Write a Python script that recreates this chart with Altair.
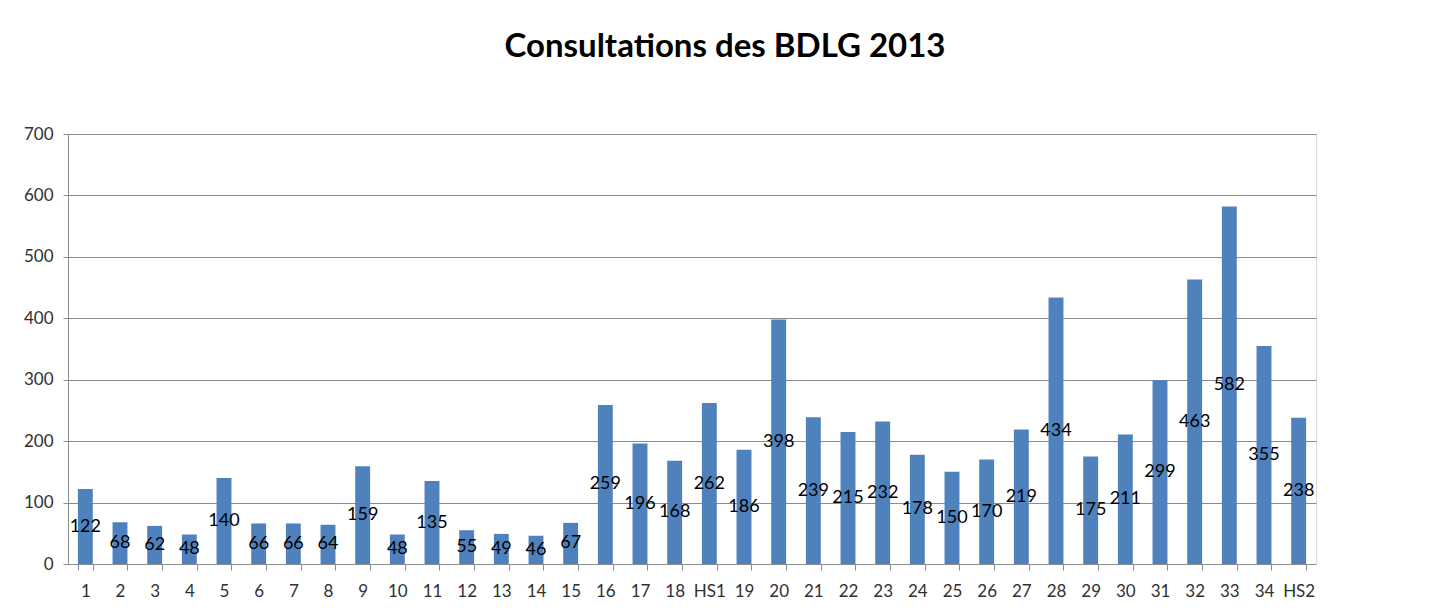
import altair as alt
import pandas as pd

categories = ["1", "2", "3", "4", "5", "6", "7", "8", "9", "10", "11", "12",
              "13", "14", "15", "16", "17", "18", "HS1", "19", "20", "21", "22",
              "23", "24", "25", "26", "27", "28", "29", "30", "31", "32", "33",
              "34", "HS2"]
values = [122, 68, 62, 48, 140, 66, 66, 64, 159, 48, 135, 55, 49, 46, 67, 259,
          196, 168, 262, 186, 398, 239, 215, 232, 178, 150, 170, 219, 434, 175,
          211, 299, 463, 582, 355, 238]
y_ticks = [0, 100, 200, 300, 400, 500, 600, 700]

df = pd.DataFrame({"cat": categories, "val": values})

FONT = "Lato"
GRID = "#8c8c8c"

x_enc = alt.X(
    "cat:N",
    sort=categories,
    scale=alt.Scale(paddingInner=0.57, paddingOuter=0.285),
    axis=alt.Axis(
        title=None, labelAngle=0, labelFont=FONT, labelFontSize=17,
        labelColor="#303030", domainColor=GRID, tickColor=GRID, tickSize=6,
        tickBand="extent", labelPadding=13, grid=False,
    ),
)
y_scale = alt.Scale(domain=[0, 700], nice=False)

bars = alt.Chart(df).mark_bar(color="#4F81BD").encode(
    x=x_enc,
    y=alt.Y(
        "val:Q", scale=y_scale,
        axis=alt.Axis(
            title=None, values=y_ticks, grid=True, gridColor=GRID,
            domainColor=GRID, tickColor=GRID, tickSize=5, labelFont=FONT,
            labelFontSize=17, labelColor="#303030", labelPadding=10,
        ),
    ),
)

labels = alt.Chart(df).transform_calculate(mid="datum.val / 2").mark_text(
    font=FONT, fontSize=18, color="#000000"
).encode(
    x=alt.X("cat:N", sort=categories),
    y=alt.Y("mid:Q", scale=y_scale),
    text="val:Q",
)

chart = alt.layer(bars, labels).properties(
    width=1248,
    height=430,
    padding={"left": 60, "top": 126, "right": 111, "bottom": 37},
    autosize="none",
    title=alt.TitleParams(
        "Consultations des BDLG 2013", font=FONT, fontSize=33,
        fontWeight="bold", color="#000000", anchor="middle", dx=33, offset=61,
    ),
).configure_view(stroke=None).configure(background="white")

chart.save("out.html", embed_options={"renderer": "svg", "actions": False})
